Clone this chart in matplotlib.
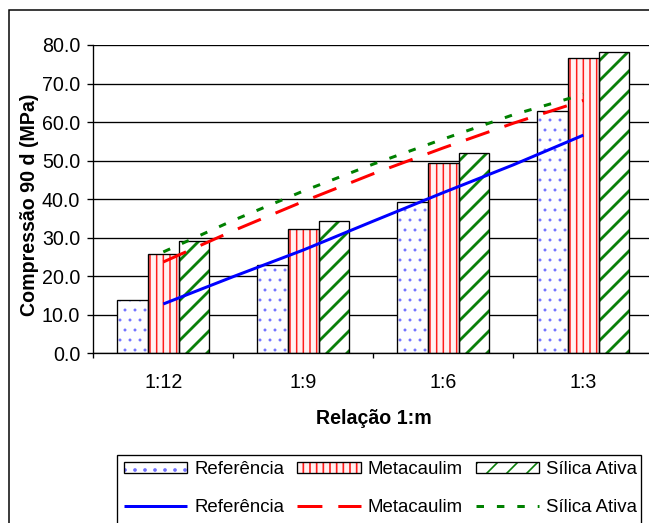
import numpy as np
import matplotlib
matplotlib.use("Agg")
import matplotlib.pyplot as plt
from matplotlib.patches import Rectangle, Patch

# Compressive strength at 90 days for each binder:aggregate ratio
categories = ["1:12", "1:9", "1:6", "1:3"]
referencia = [13.9, 23.0, 39.3, 62.9]
metacaulim = [25.8, 32.3, 49.3, 76.5]
silica_ativa = [29.1, 34.4, 51.9, 78.3]

# Trend lines, sampled every half category
trend_referencia = [12.8, 19.9, 26.8, 34.3, 41.7, 48.9, 56.6]
trend_metacaulim = [23.7, 31.8, 39.4, 46.6, 53.3, 59.7, 65.6]
trend_silica = [26.3, 34.5, 42.1, 49.1, 55.6, 61.9, 67.2]

series_names = ["Referência", "Metacaulim", "Sílica Ativa"]
y_ticks = [0, 10, 20, 30, 40, 50, 60, 70, 80]
x_label = "Relação 1:m"
y_label = "Compressão 90 d (MPa)"

W, H, DPI = 649, 523, 120
FS = 11.8
LEG_FS = 11.2

plt.rcParams['font.family'] = ['Liberation Sans', 'DejaVu Sans']
plt.rcParams['font.size'] = FS

fig = plt.figure(figsize=(W / DPI, H / DPI), dpi=DPI)
fig.patch.set_facecolor('white')

# plot area (right edge runs past the figure border)
ax_left, ax_right, ax_top, ax_bottom = 93.3, 653.3, 45.0, 353.3
ax = fig.add_axes([ax_left / W, 1 - ax_bottom / H,
                   (ax_right - ax_left) / W, (ax_bottom - ax_top) / H])

x = np.arange(len(categories))
bw = 0.219
bar_styles = [
    dict(data=referencia, face='white', hatch_color='#6e6eff', hatch='..', hlw=0.55),
    dict(data=metacaulim, face='#fff1f1', hatch_color='#ff1a1a', hatch='|||', hlw=0.9),
    dict(data=silica_ativa, face='white', hatch_color='#0a800a', hatch='//', hlw=1.7),
]

legend_patches = []
for i, st in enumerate(bar_styles):
    off = (i - 1) * bw
    with plt.rc_context({'hatch.linewidth': st['hlw']}):
        fill = ax.bar(x + off, st['data'], bw, color=st['face'],
                      edgecolor=st['hatch_color'], hatch=st['hatch'],
                      linewidth=0, zorder=2)
        for p in fill:
            if hasattr(p, 'set_hatch_linewidth'):
                p.set_hatch_linewidth(st['hlw'])
        hp = Patch(facecolor=st['face'], edgecolor=st['hatch_color'],
                   hatch=st['hatch'], linewidth=0)
        if hasattr(hp, 'set_hatch_linewidth'):
            hp.set_hatch_linewidth(st['hlw'])
    ax.bar(x + off, st['data'], bw, fill=False, edgecolor='black',
           linewidth=0.8, zorder=3)
    op = Patch(fill=False, edgecolor='black', linewidth=0.8)
    legend_patches.append((hp, op))

tx = np.linspace(0, len(categories) - 1, len(trend_referencia))
l1, = ax.plot(tx, trend_referencia, color='#0000ff', lw=1.8,
              solid_capstyle='butt', zorder=4)
l2, = ax.plot(tx, trend_metacaulim, color='#ff0000', lw=1.8,
              dashes=(8.3, 5.3), zorder=4)
l3, = ax.plot(tx, trend_silica, color='#008000', lw=1.8,
              dashes=(2.5, 4.3), zorder=4)

ax.set_xlim(-0.5, len(categories) - 0.5)
ax.set_ylim(0, 80)
ax.set_yticks(y_ticks)
ax.set_yticklabels([f"{v:.1f}" for v in y_ticks])
ax.set_xticks(x)
ax.set_xticklabels(categories)
ax.set_xticks(np.arange(-0.5, len(categories), 1.0), minor=True)

ax.yaxis.grid(True, color='black', linewidth=0.8)
ax.set_axisbelow(True)
for s in ['top', 'right']:
    ax.spines[s].set_visible(False)
for s in ['left', 'bottom']:
    ax.spines[s].set_linewidth(0.8)
    ax.spines[s].set_color('black')

ax.tick_params(axis='y', direction='out', length=3.6, width=0.8, pad=4.2,
               labelsize=FS, colors='black')
ax.tick_params(axis='x', which='major', length=0, pad=12, labelsize=FS)
ax.tick_params(axis='x', which='minor', direction='out', length=3.0,
               width=0.8)

fig.text(374 / W, 1 - 418 / H, x_label, ha='center', va='center',
         fontsize=FS, fontweight='bold')
fig.text(30 / W, 1 - 205 / H, y_label, ha='center', va='center',
         rotation=90, fontsize=FS, fontweight='bold')

# outer chart border
fig.add_artist(Rectangle((8.5 / W, -0.1), 1.2, (H - 10.5) / H + 0.1,
                         transform=fig.transFigure, fill=False,
                         edgecolor='black', linewidth=0.9))

# legend box
leg_l, leg_r, leg_t = 117.0, 641.0, 455.0
fig.add_artist(Rectangle((leg_l / W, -0.1), (leg_r - leg_l) / W,
                         (H - leg_t) / H + 0.1, transform=fig.transFigure,
                         facecolor='white', edgecolor='black', linewidth=0.8,
                         zorder=5))

handles = [legend_patches[0], l1, legend_patches[1], l2, legend_patches[2], l3]
labels = [series_names[0], series_names[0], series_names[1], series_names[1],
          series_names[2], series_names[2]]
leg = fig.legend(handles, labels, ncol=3, loc='upper left',
                 bbox_to_anchor=(124 / W, 1 - 461 / H),
                 bbox_transform=fig.transFigure, frameon=False,
                 borderaxespad=0, borderpad=0,
                 handlelength=3.4, handleheight=0.55, handletextpad=0.35,
                 columnspacing=0.72, labelspacing=1.12,
                 fontsize=LEG_FS)
leg.set_zorder(6)

fig.savefig("out.png", dpi=DPI)
